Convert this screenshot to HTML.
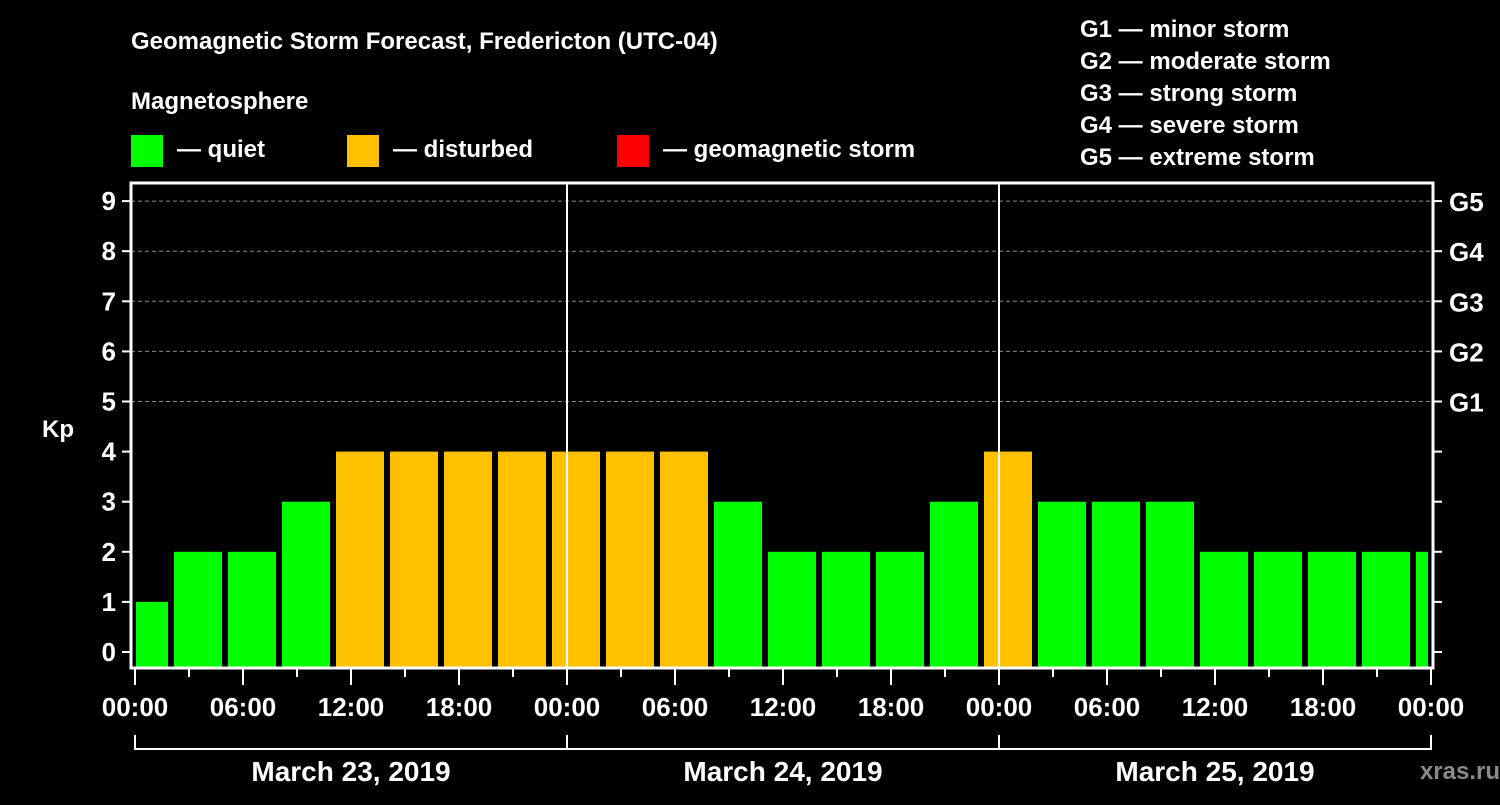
<!DOCTYPE html>
<html><head><meta charset="utf-8"><style>
body{margin:0;background:#000;}
svg text{font-family:"Liberation Sans",sans-serif;font-weight:bold;fill:#fff;}
</style></head><body>
<svg id="c" width="1500" height="800" xmlns="http://www.w3.org/2000/svg">
<rect width="1500" height="800" fill="#000"/>
<text x="131" y="49" font-size="24">Geomagnetic Storm Forecast, Fredericton (UTC-04)</text>
<text x="131" y="109" font-size="24">Magnetosphere</text>
<rect x="131" y="135" width="32" height="32" fill="#00ff00"/>
<text x="177" y="157" font-size="24">— quiet</text>
<rect x="347" y="135" width="32" height="32" fill="#ffc000"/>
<text x="393" y="157" font-size="24">— disturbed</text>
<rect x="617" y="135" width="32" height="32" fill="#ff0000"/>
<text x="663" y="157" font-size="24">— geomagnetic storm</text>
<g font-size="24">
<text x="1080" y="37">G1 — minor storm</text>
<text x="1080" y="69">G2 — moderate storm</text>
<text x="1080" y="101">G3 — strong storm</text>
<text x="1080" y="133">G4 — severe storm</text>
<text x="1080" y="165">G5 — extreme storm</text>
</g>
<text x="42" y="437" font-size="24">Kp</text>
<text x="1500" y="779" font-size="24" fill="#888" style="fill:#8a8a8a" text-anchor="end">xras.ru </text>
<g id="grid"></g><g id="bars"></g><g id="axes"></g>
</svg>
<script>
const kpValues=[1,2,2,3,4,4,4,4,4,4,4,3,2,2,2,3,4,3,3,3,2,2,2,2,2];
const yTicks=[0,1,2,3,4,5,6,7,8,9];
const gLabels=["G1","G2","G3","G4","G5"];
const gLevels=[5,6,7,8,9];
const xTickLabels=["00:00","06:00","12:00","18:00","00:00","06:00","12:00","18:00","00:00","06:00","12:00","18:00","00:00"];
const dateLabels=["March 23, 2019","March 24, 2019","March 25, 2019"];
const NS="http://www.w3.org/2000/svg";
const X0=135,PXH=18,Y0=652,PXK=50.1,L=131,R=1433,T=183,B=668;
const xs=h=>X0+h*PXH, ys=k=>Y0-k*PXK;
function mk(tag,attrs,parent,txt){const e=document.createElementNS(NS,tag);for(const k in attrs)e.setAttribute(k,attrs[k]);if(txt!=null)e.textContent=txt;parent.appendChild(e);return e;}
const grid=document.getElementById('grid'),bars=document.getElementById('bars'),axes=document.getElementById('axes');
gLevels.forEach((k,i)=>{const l=mk('line',{x1:L,x2:R,y1:ys(k),y2:ys(k),stroke:'#888','stroke-dasharray':'4,3','stroke-width':1},grid);


const t=mk('text',{x:1449,y:ys(k)+10,'font-size':26},axes,gLabels[i]);

});
kpValues.forEach((v,i)=>{let x1=xs(i*3-1)+3,x2=xs(i*3+2)-3;x1=Math.max(x1,136);x2=Math.min(x2,1428);
const c=v>=5?'#ff0000':v>=4?'#ffc000':'#00ff00';
const r=mk('rect',{x:x1,y:ys(v),width:x2-x1,height:B-ys(v),fill:c},bars);

});
[1,2].forEach(d=>{const l=mk('line',{x1:xs(24*d),x2:xs(24*d),y1:T,y2:B,stroke:'#fff','stroke-width':2},axes);

});
const fr=mk('rect',{x:L,y:T,width:R-L,height:B-T,fill:'none',stroke:'#fff','stroke-width':3},axes);


yTicks.forEach(k=>{mk('line',{x1:122,x2:L,y1:ys(k),y2:ys(k),stroke:'#fff','stroke-width':2},axes);
mk('line',{x1:R,x2:1442,y1:ys(k),y2:ys(k),stroke:'#fff','stroke-width':2},axes);
const t=mk('text',{x:116,y:ys(k)+9,'font-size':26,'text-anchor':'end'},axes,k);

});
for(let h=0;h<=72;h+=3){const big=h%6===0;mk('line',{x1:xs(h),x2:xs(h),y1:B,y2:big?685:677,stroke:'#fff','stroke-width':2},axes);}
xTickLabels.forEach((s,i)=>{const t=mk('text',{x:xs(i*6),y:716,'font-size':26,'text-anchor':'middle'},axes,s);

});
mk('line',{x1:xs(0),x2:xs(72),y1:749,y2:749,stroke:'#fff','stroke-width':2},axes);
for(let d=0;d<=3;d++)mk('line',{x1:xs(24*d),x2:xs(24*d),y1:735,y2:750,stroke:'#fff','stroke-width':2},axes);
dateLabels.forEach((s,i)=>{const t=mk('text',{x:xs(24*i+12),y:781,'font-size':28,'text-anchor':'middle'},axes,s);

});
</script>
</body></html>
